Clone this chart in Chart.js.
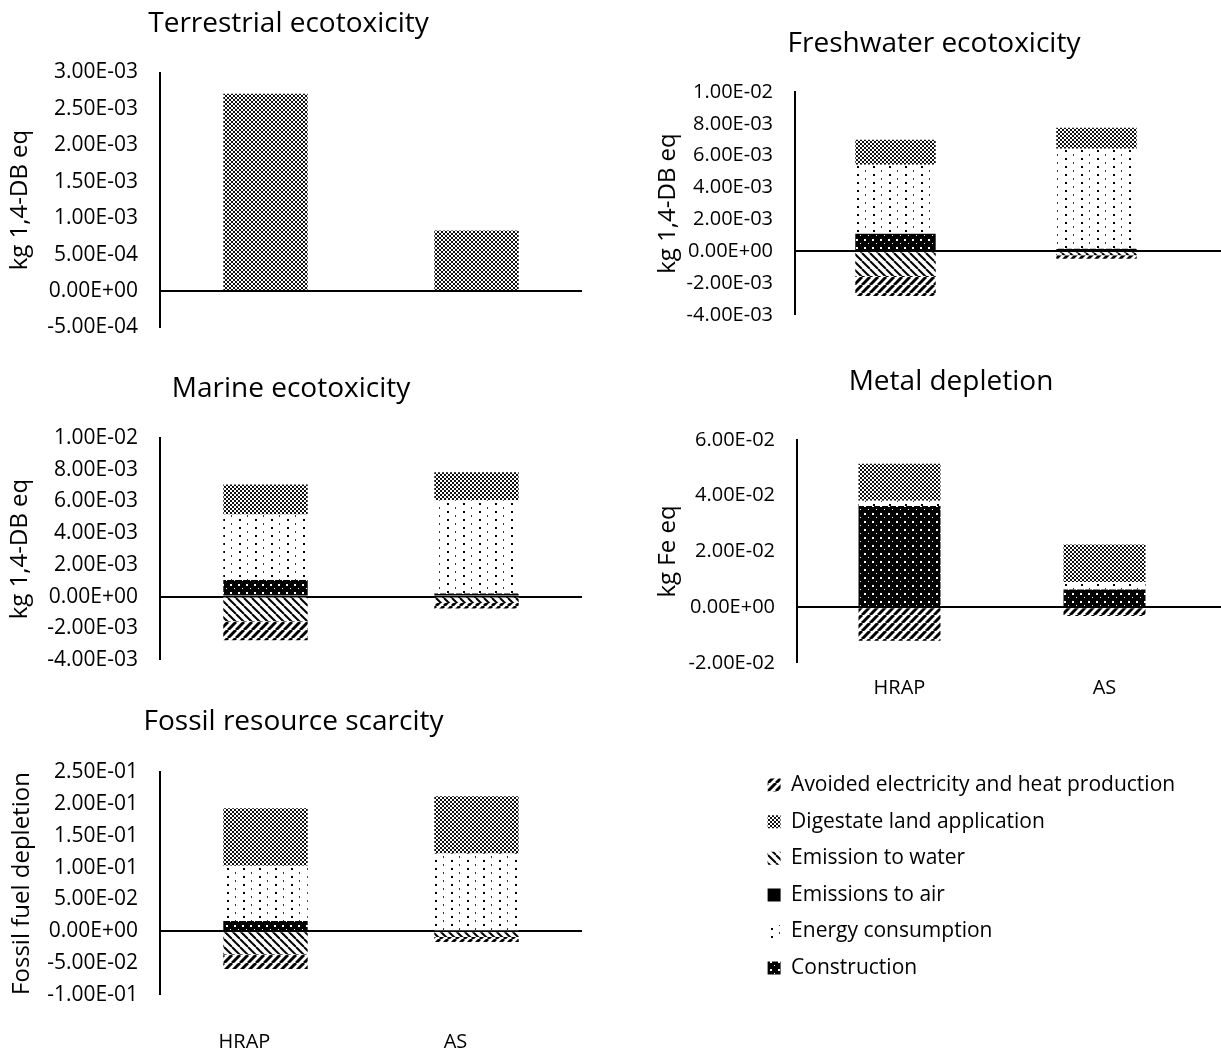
<!DOCTYPE html>
<html>
<head>
<meta charset="utf-8">
<title>Impact categories – HRAP vs AS</title>
<script src="https://cdn.jsdelivr.net/npm/chart.js@4.4.1/dist/chart.umd.min.js"></script>
<style>
  html, body { margin: 0; padding: 0; background: #fff; }
  #page { position: relative; width: 1221px; height: 1053px; overflow: hidden; background: #fff; }
  #page canvas { position: absolute; }
</style>
</head>
<body>
<div id="page"></div>
<script>
// ---------------------------------------------------------------------------
// Data
// ---------------------------------------------------------------------------
const categories = ['HRAP', 'AS'];

const seriesLabels = [
  'Avoided electricity and heat production',
  'Digestate land application',
  'Emission to water',
  'Emissions to air',
  'Energy consumption',
  'Construction'
];

// Terrestrial ecotoxicity (kg 1,4-DB eq)
const terrAvoided      = [0, 0];
const terrDigestate    = [2.71e-3, 0.83e-3];
const terrWater        = [0, 0];
const terrAir          = [0, 0];
const terrEnergy       = [0, 0];
const terrConstruction = [0, 0];
const terrTicks = [-5e-4, 0, 5e-4, 1e-3, 1.5e-3, 2e-3, 2.5e-3, 3e-3];

// Freshwater ecotoxicity (kg 1,4-DB eq)
const freshAvoided      = [-1.25e-3, -0.22e-3];
const freshDigestate    = [1.57e-3, 1.32e-3];
const freshWater        = [-1.55e-3, -0.25e-3];
const freshAir          = [0, 0];
const freshEnergy       = [4.33e-3, 6.27e-3];
const freshConstruction = [1.10e-3, 0.16e-3];
const freshTicks = [-4e-3, -2e-3, 0, 2e-3, 4e-3, 6e-3, 8e-3, 1e-2];

// Marine ecotoxicity (kg 1,4-DB eq)
const marineAvoided      = [-1.20e-3, -0.36e-3];
const marineDigestate    = [1.89e-3, 1.77e-3];
const marineWater        = [-1.55e-3, -0.40e-3];
const marineAir          = [0, 0];
const marineEnergy       = [4.12e-3, 5.88e-3];
const marineConstruction = [1.05e-3, 0.19e-3];
const marineTicks = [-4e-3, -2e-3, 0, 2e-3, 4e-3, 6e-3, 8e-3, 1e-2];

// Metal depletion (kg Fe eq)
const metalAvoided      = [-1.20e-2, -0.31e-2];
const metalDigestate    = [1.33e-2, 1.34e-2];
const metalWater        = [0, 0];
const metalAir          = [0, 0];
const metalEnergy       = [0.19e-2, 0.27e-2];
const metalConstruction = [3.63e-2, 0.64e-2];
const metalTicks = [-2e-2, 0, 2e-2, 4e-2, 6e-2];

// Fossil resource scarcity (fossil fuel depletion)
const fossilAvoided      = [-0.023, -0.008];
const fossilDigestate    = [0.090, 0.090];
const fossilWater        = [-0.036, -0.009];
const fossilAir          = [0, 0];
const fossilEnergy       = [0.087, 0.122];
const fossilConstruction = [0.016, 0];
const fossilTicks = [-0.1, -0.05, 0, 0.05, 0.1, 0.15, 0.2, 0.25];

// ---------------------------------------------------------------------------
// Styling
// ---------------------------------------------------------------------------
const FONT = "'Open Sans', 'DejaVu Sans', sans-serif";
Chart.defaults.font.family = FONT;
Chart.defaults.color = '#000';

function tile(w, h, paint) {
  const c = document.createElement('canvas');
  c.width = w; c.height = h;
  const g = c.getContext('2d');
  paint(g, w, h);
  return g.createPattern(c, 'repeat');
}

// Pattern fills, one per series (same order as seriesLabels)
const fillAvoided = tile(8, 8, (g, w, h) => {
  g.fillStyle = '#fff'; g.fillRect(0, 0, w, h);
  g.strokeStyle = '#000'; g.lineWidth = 3;
  for (const k of [-w, 0, w]) { g.beginPath(); g.moveTo(k, h); g.lineTo(k + w, 0); g.stroke(); }
});
const fillDigestate = tile(4, 4, (g) => {
  g.fillStyle = '#fff'; g.fillRect(0, 0, 4, 4);
  g.fillStyle = '#111'; g.fillRect(0, 0, 2, 2); g.fillRect(2, 2, 2, 2);
});
const fillWater = tile(8, 8, (g, w, h) => {
  g.fillStyle = '#fff'; g.fillRect(0, 0, w, h);
  g.strokeStyle = '#000'; g.lineWidth = 2;
  for (const k of [-w, 0, w]) { g.beginPath(); g.moveTo(k, 0); g.lineTo(k + w, h); g.stroke(); }
});
const fillAir = '#000';
const fillEnergy = tile(16, 8, (g) => {
  g.fillStyle = '#fff'; g.fillRect(0, 0, 16, 8);
  g.fillStyle = '#000'; g.fillRect(3, 1, 2, 2);
  g.fillStyle = '#333'; g.fillRect(11, 5, 1, 2);
});
const fillConstruction = tile(8, 8, (g) => {
  g.fillStyle = '#000'; g.fillRect(0, 0, 8, 8);
  g.fillStyle = '#fff'; g.fillRect(2, 2, 2, 2); g.fillRect(6, 6, 1, 1);
});
const seriesFills = [fillAvoided, fillDigestate, fillWater, fillAir, fillEnergy, fillConstruction];

// Stacking order from the zero line outward: Construction, Emissions to air,
// Energy consumption, Digestate (positive side); Emission to water, Avoided (negative side)
const stackOrder = [5, 3, 4, 1, 2, 0];

function sci(v) {
  if (v === 0) return '0.00E+00';
  const parts = v.toExponential(2).split('e');
  const n = parseInt(parts[1], 10);
  return parts[0] + 'E' + (n < 0 ? '-' : '+') + String(Math.abs(n)).padStart(2, '0');
}

// Continues the zero line past the plot to the right edge
const zeroExtend = {
  id: 'zeroExtend',
  afterDraw(chart, args, opts) {
    if (!opts || opts.to == null) return;
    const y = Math.round(chart.scales.y.getPixelForValue(0));
    const ctx = chart.ctx;
    ctx.save();
    ctx.strokeStyle = '#000';
    ctx.lineWidth = 2;
    ctx.beginPath();
    ctx.moveTo(chart.chartArea.right, y);
    ctx.lineTo(opts.to, y);
    ctx.stroke();
    ctx.restore();
  }
};

// ---------------------------------------------------------------------------
// Panels
// ---------------------------------------------------------------------------
const panels = [
  { title: 'Terrestrial ecotoxicity', yTitle: 'kg 1,4-DB eq', ticks: terrTicks,
    series: [terrAvoided, terrDigestate, terrWater, terrAir, terrEnergy, terrConstruction],
    box: { titleCx: 288.5, titleCy: 24, plotLeft: 160, plotRight: 582, plotTop: 72.5, plotBottom: 327.5, axisTitleX: 20, tickSize: 21 } },
  { title: 'Freshwater ecotoxicity', yTitle: 'kg 1,4-DB eq', ticks: freshTicks,
    series: [freshAvoided, freshDigestate, freshWater, freshAir, freshEnergy, freshConstruction],
    box: { titleCx: 934, titleCy: 44, plotLeft: 795, plotRight: 1197, plotTop: 92, plotBottom: 315, axisTitleX: 668, zeroTo: 1221, tickSize: 20 } },
  { title: 'Marine ecotoxicity', yTitle: 'kg 1,4-DB eq', ticks: marineTicks,
    series: [marineAvoided, marineDigestate, marineWater, marineAir, marineEnergy, marineConstruction],
    box: { titleCx: 291, titleCy: 389, plotLeft: 160, plotRight: 582, plotTop: 438, plotBottom: 660, axisTitleX: 20, tickSize: 21 } },
  { title: 'Metal depletion', yTitle: 'kg Fe eq', ticks: metalTicks,
    series: [metalAvoided, metalDigestate, metalWater, metalAir, metalEnergy, metalConstruction],
    box: { titleCx: 951, titleCy: 382, plotLeft: 797, plotRight: 1207, plotTop: 440, plotBottom: 663, axisTitleX: 668, zeroTo: 1221, categoryCy: 688, tickSize: 20 } },
  { title: 'Fossil resource scarcity', yTitle: 'Fossil fuel depletion', ticks: fossilTicks,
    series: [fossilAvoided, fossilDigestate, fossilWater, fossilAir, fossilEnergy, fossilConstruction],
    box: { titleCx: 293.5, titleCy: 722, plotLeft: 160, plotRight: 582, plotTop: 772, plotBottom: 995, axisTitleX: 22, categoryCy: 1042, labelShift: -21, tickSize: 21 } }
];

const page = document.getElementById('page');
const TITLE_SIZE = 28, CATEGORY_SIZE = 20, AXIS_TITLE_SIZE = 24;

function addCanvas(left, top, width, height) {
  const c = document.createElement('canvas');
  c.width = width; c.height = height;
  c.style.left = left + 'px'; c.style.top = top + 'px';
  c.style.width = width + 'px'; c.style.height = height + 'px';
  page.appendChild(c);
  return c;
}

panels.forEach(p => {
  const b = p.box;
  const half = TITLE_SIZE * 1.2 / 2;
  let canvasLeft = Math.min(2 * b.titleCx - (b.plotRight + 4), b.axisTitleX - 22);
  if (b.zeroTo) canvasLeft = Math.min(canvasLeft, 2 * b.titleCx - b.zeroTo);
  canvasLeft = Math.floor(canvasLeft);
  const canvasRight = 2 * b.titleCx - canvasLeft;
  const width = Math.round(canvasRight - canvasLeft);
  const canvasTop = Math.round(b.titleCy - half - 6);
  const titlePadTop = b.titleCy - half - canvasTop;
  const titlePadBottom = b.plotTop - b.titleCy - half;

  const showCats = !!b.categoryCy;
  const tickPad = showCats ? b.categoryCy - b.plotBottom - CATEGORY_SIZE * 1.2 / 2 : 0;
  const minBottom = Math.max(showCats ? tickPad + CATEGORY_SIZE * 1.2 + 4 : 0, 44);
  const height = Math.ceil(b.plotBottom - canvasTop + minBottom);
  const xHeight = height - (b.plotBottom - canvasTop);
  const yWidth = b.plotLeft - canvasLeft;
  const rightWidth = canvasRight - b.plotRight;
  const yTitlePad = b.axisTitleX - canvasLeft - AXIS_TITLE_SIZE * 1.2 / 2;

  const canvas = addCanvas(canvasLeft, canvasTop, width, height);
  const ticks = p.ticks;

  new Chart(canvas, {
    type: 'bar',
    data: {
      labels: categories,
      datasets: stackOrder.map(i => ({
        label: seriesLabels[i],
        data: p.series[i],
        backgroundColor: seriesFills[i],
        borderWidth: 0,
        barPercentage: 1,
        categoryPercentage: 0.4
      }))
    },
    options: {
      responsive: false,
      animation: false,
      events: [],
      layout: { padding: 0 },
      plugins: {
        legend: { display: false },
        tooltip: { enabled: false },
        title: {
          display: true,
          text: p.title,
          color: '#000',
          font: { family: FONT, size: TITLE_SIZE, weight: 'normal' },
          padding: { top: titlePadTop, bottom: titlePadBottom }
        },
        zeroExtend: { to: b.zeroTo ? b.zeroTo - canvasLeft : null }
      },
      scales: {
        x: {
          stacked: true,
          grid: { display: false, drawTicks: false },
          border: { display: false },
          ticks: {
            display: showCats,
            padding: tickPad,
            labelOffset: b.labelShift || 0,
            maxRotation: 0,
            autoSkip: false,
            color: '#000',
            font: { family: FONT, size: CATEGORY_SIZE }
          },
          afterFit: s => { s.height = xHeight; }
        },
        y: {
          stacked: true,
          min: ticks[0],
          max: ticks[ticks.length - 1],
          z: 1,
          afterBuildTicks: s => { s.ticks = ticks.map(v => ({ value: v })); },
          ticks: {
            callback: v => sci(v),
            padding: 22,
            color: '#000',
            font: { family: FONT, size: b.tickSize }
          },
          grid: {
            drawTicks: false,
            color: c => (c.tick && c.tick.value === 0) ? '#000' : 'rgba(0,0,0,0)',
            lineWidth: c => (c.tick && c.tick.value === 0) ? 2 : 0
          },
          border: { display: true, color: '#000', width: 2 },
          title: {
            display: true,
            text: p.yTitle,
            color: '#000',
            font: { family: FONT, size: AXIS_TITLE_SIZE },
            padding: { top: yTitlePad, bottom: 0 }
          },
          afterFit: s => { s.width = yWidth; }
        },
        yRight: {
          position: 'right',
          display: true,
          ticks: { display: false },
          grid: { display: false, drawTicks: false },
          border: { display: false },
          afterFit: s => { s.width = rightWidth; }
        }
      }
    },
    plugins: [zeroExtend]
  });
});

// ---------------------------------------------------------------------------
// Shared legend
// ---------------------------------------------------------------------------
const legendCanvas = addCanvas(752, 759, 469, 290);
new Chart(legendCanvas, {
  type: 'bar',
  data: {
    labels: [],
    datasets: seriesLabels.map((label, i) => ({
      label: label,
      data: [],
      backgroundColor: seriesFills[i],
      borderColor: 'rgba(0,0,0,0)',
      borderWidth: 0
    }))
  },
  options: {
    responsive: false,
    animation: false,
    events: [],
    layout: { padding: 0 },
    scales: { x: { display: false }, y: { display: false } },
    plugins: {
      tooltip: { enabled: false },
      title: { display: false },
      legend: {
        display: true,
        position: 'left',
        align: 'start',
        maxWidth: 469,
        labels: {
          color: '#000',
          font: { family: FONT, size: 21 },
          boxWidth: 13,
          boxHeight: 13,
          padding: 15.6
        }
      }
    }
  }
});
</script>
</body>
</html>
